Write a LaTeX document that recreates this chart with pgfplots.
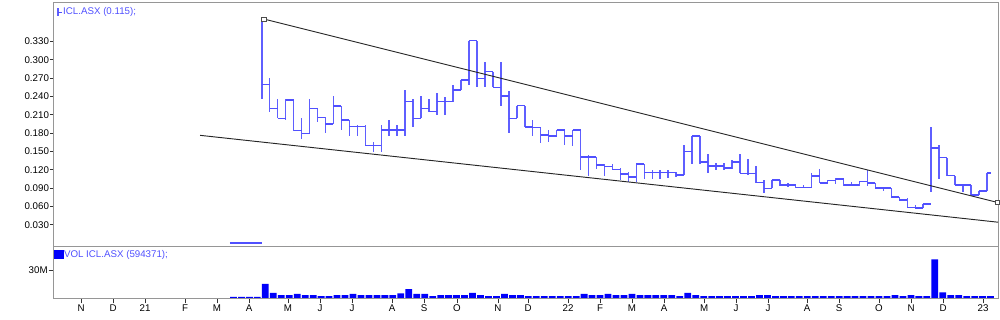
\documentclass[border=0pt]{standalone}
\usepackage{fontspec}
\setmainfont{Liberation Sans}
\usepackage{pgfplots}
\usepackage{pgfplotstable}
\pgfplotsset{compat=1.18}

\definecolor{barcol}{RGB}{80,80,255}
\definecolor{vertcol}{RGB}{95,95,255}
\definecolor{legcol}{RGB}{80,80,255}
\definecolor{framecol}{RGB}{150,150,150}
\definecolor{volcol}{RGB}{0,0,250}
\newcommand{\cf}{\fontsize{7.3}{8.5}\selectfont}

% weekly bars: open = previous close (drawn as the right tick of the previous bar)
\pgfplotstableread{
i high low close
-4 0 0 0
-3 0 0 0
-2 0 0 0
-1 0 0 0
0 0.3670 0.2351 0.2597
1 0.2695 0.2149 0.2204
2 0.2351 0.2041 0.2041
3 0.2351 0.2013 0.2340
4 0.2340 0.1838 0.1838
5 0.2041 0.1697 0.1795
6 0.2351 0.1795 0.2204
7 0.2204 0.1985 0.2057
8 0.2057 0.1795 0.1947
9 0.2405 0.1947 0.2242
10 0.2242 0.1849 0.2013
11 0.2013 0.1751 0.1903
12 0.1931 0.1751 0.1903
13 0.1931 0.1587 0.1592
14 0.1658 0.1494 0.1592
15 0.1931 0.1494 0.1849
16 0.2013 0.1751 0.1849
17 0.1931 0.1751 0.1849
18 0.2503 0.1751 0.2312
19 0.2351 0.1893 0.2041
20 0.2405 0.2041 0.2204
21 0.2351 0.2149 0.2149
22 0.2450 0.2095 0.2312
23 0.2394 0.2095 0.2312
24 0.2585 0.2312 0.2503
25 0.2667 0.2503 0.2667
26 0.3310 0.2585 0.3310
27 0.3310 0.2548 0.2695
28 0.2962 0.2548 0.2803
29 0.2803 0.2548 0.2548
30 0.2962 0.2242 0.2405
31 0.2495 0.1800 0.2041
32 0.2247 0.2041 0.2247
33 0.2247 0.1893 0.1898
34 0.2005 0.1751 0.1893
35 0.1903 0.1641 0.1767
36 0.1849 0.1658 0.1751
37 0.1849 0.1740 0.1849
38 0.1849 0.1604 0.1751
39 0.1849 0.1587 0.1849
40 0.1849 0.1195 0.1407
41 0.1440 0.1097 0.1407
42 0.1412 0.1206 0.1277
43 0.1293 0.1097 0.1249
44 0.1293 0.1195 0.1206
45 0.1223 0.1031 0.1129
46 0.1162 0.0999 0.1080
47 0.1293 0.1003 0.1293
48 0.1293 0.1048 0.1154
49 0.1195 0.1048 0.1154
50 0.1195 0.1048 0.1154
51 0.1195 0.1059 0.1154
52 0.1160 0.1085 0.1113
53 0.1596 0.1113 0.1497
54 0.1751 0.1293 0.1751
55 0.1751 0.1293 0.1326
56 0.1457 0.1141 0.1260
57 0.1304 0.1195 0.1260
58 0.1304 0.1195 0.1228
59 0.1358 0.1211 0.1326
60 0.1457 0.1141 0.1141
61 0.1370 0.1113 0.1141
62 0.1260 0.0987 0.0987
63 0.1031 0.0814 0.0895
64 0.1031 0.0895 0.1031
65 0.1031 0.0933 0.0949
66 0.0987 0.0922 0.0949
67 0.0949 0.0895 0.0905
68 0.0949 0.0895 0.0905
69 0.1151 0.0895 0.1097
70 0.1208 0.0982 0.0982
71 0.1031 0.0977 0.1023
72 0.1059 0.0966 0.1048
73 0.1059 0.0938 0.0949
74 0.1003 0.0933 0.0949
75 0.1007 0.0938 0.1003
76 0.1195 0.0933 0.0982
77 0.0982 0.0884 0.0900
78 0.0922 0.0846 0.0900
79 0.0900 0.0753 0.0753
80 0.0753 0.0704 0.0704
81 0.0732 0.0581 0.0581
82 0.0622 0.0573 0.0573
83 0.0639 0.0573 0.0639
84 0.1903 0.0827 0.1555
85 0.1604 0.1048 0.1396
86 0.1396 0.1102 0.1102
87 0.1102 0.0949 0.0949
88 0.0949 0.0827 0.0949
89 0.0949 0.0786 0.0786
90 0.0851 0.0778 0.0851
91 0.1146 0.0851 0.1146
}\ohlc

\pgfplotstableread{
i vol
-4 1.1
-3 1.1
-2 1.1
-1 1.1
0 15.0
1 5.4
2 3.2
3 3.2
4 4.3
5 3.2
6 3.2
7 2.1
8 2.1
9 3.2
10 3.2
11 4.3
12 3.2
13 3.2
14 3.2
15 3.2
16 3.2
17 5.0
18 9.6
19 4.3
20 4.3
21 2.1
22 3.2
23 3.2
24 3.2
25 3.2
26 5.4
27 3.2
28 2.1
29 2.1
30 4.3
31 3.2
32 3.2
33 2.1
34 2.1
35 2.1
36 2.1
37 2.1
38 2.1
39 2.1
40 4.3
41 3.2
42 3.2
43 4.3
44 3.2
45 3.2
46 4.3
47 3.2
48 3.2
49 3.2
50 3.2
51 3.2
52 2.1
53 5.4
54 3.2
55 2.1
56 2.1
57 2.1
58 2.1
59 2.1
60 2.1
61 2.1
62 3.2
63 3.2
64 2.1
65 2.1
66 2.1
67 2.1
68 2.1
69 2.1
70 2.1
71 2.1
72 2.1
73 2.1
74 2.1
75 2.1
76 2.1
77 2.1
78 2.1
79 3.2
80 2.1
81 3.2
82 2.1
83 2.1
84 41.4
85 6.1
86 3.2
87 3.2
88 2.1
89 2.1
90 2.1
91 2.1
}\voltab

\begin{document}
\begin{tikzpicture}
\path[use as bounding box] (0pt,0pt) rectangle (750pt,240pt);
% ---------------- price panel ----------------
\begin{axis}[
  at={(39.75pt,54.975pt)}, anchor=south west,
  scale only axis, width=708.75pt, height=183pt,
  xmin=-26.19, xmax=92.38, ymin=-0.006, ymax=0.3932,
  axis line style={draw=framecol, line width=0.75pt},
  xtick=\empty,
  ytick={0.03,0.06,0.09,0.12,0.15,0.18,0.21,0.24,0.27,0.30,0.33},
  yticklabels={0.030,0.060,0.090,0.120,0.150,0.180,0.210,0.240,0.270,0.300,0.330},
  ytick pos=left, tick align=outside, major tick length=2.25pt,
  tick style={draw=black!80, line width=0.6pt},
  yticklabel style={font=\cf, inner sep=0.6pt},
  /pgf/number format/assume math mode=true,
  legend style={at={(axis description cs:0,1)}, anchor=north west, xshift=3pt, yshift=-3pt,
    draw=none, fill=none, inner sep=0pt, font=\cf, text=legcol, nodes={inner sep=0.5pt}},
  legend cell align=left,
]
\addlegendimage{legend image code/.code={\draw[vertcol,line width=1.1pt] (0pt,-2.75pt) -- (0pt,2.75pt); \draw[barcol,line width=0.85pt] (0pt,0pt) -- (3pt,0pt);}}
\addlegendentry{ICL.ASX (0.115);}
% high-low: comb up to the high, then the part below the low is masked in white
\addplot[vertcol, ycomb, line width=1.15pt, mark=none, forget plot] table[x=i, y=high] {\ohlc};
\addplot[white, ycomb, line width=2.0pt, mark=none, forget plot] table[x=i, y=low] {\ohlc};
% close ticks, running on as the next bar's open tick
\addplot[barcol, jump mark left, line width=0.9pt, mark=none, forget plot] table[x=i, y=close] {\ohlc};
\addplot[barcol, line width=0.9pt, mark=none, forget plot] coordinates {(91,0.1146) (91.5,0.1146)};
% trend lines
\addplot[black!85, line width=0.7pt, forget plot] coordinates {(-7.74,0.1762) (92.5,0.0339)};
\addplot[black!85, line width=0.7pt, forget plot, mark=square*, mark size=1.6pt,
  mark options={solid, fill=white, draw=black!70, line width=0.5pt}] coordinates {(0.25,0.3665) (92.26,0.0666)};
\end{axis}
% ---------------- volume panel ----------------
\begin{axis}[
  at={(39.75pt,15.75pt)}, anchor=south west,
  scale only axis, width=708.75pt, height=39pt,
  xmin=-26.19, xmax=92.38, ymin=-1.07, ymax=54.64,
  axis line style={draw=framecol, line width=0.75pt},
  xtick={-22.67,-18.66,-14.64,-9.62,-5.61,-1.59,3.30,7.31,11.33,16.35,20.36,24.50,29.64,33.41,38.43,42.45,46.46,50.48,55.50,59.51,63.53,68.42,72.43,77.45,81.47,85.48,90.50},
  xticklabels={N,D,21,F,M,A,M,J,J,A,S,O,N,D,22,F,M,A,M,J,J,A,S,O,N,D,23},
  ytick={30}, yticklabels={30M},
  xtick pos=bottom, ytick pos=left, tick align=outside, major tick length=3.2pt,
  tick style={draw=black!80, line width=0.6pt},
  yticklabel style={font=\cf, inner sep=0.6pt},
  xticklabel style={font=\cf, inner sep=1.2pt},
  /pgf/number format/assume math mode=true,
  legend style={at={(axis description cs:0,1)}, anchor=north west, xshift=0.3pt, yshift=-1.6pt,
    draw=none, fill=none, inner sep=0pt, font=\cf, text=legcol, nodes={inner sep=0.5pt}},
  legend cell align=left,
]
\addlegendimage{legend image code/.code={\fill[volcol] (0pt,-2.9pt) rectangle (6.9pt,2.9pt);}}
\addlegendentry{VOL ICL.ASX (594371);}
\addplot[ybar, bar width=0.85, bar shift=0pt, fill=volcol, draw=none, forget plot]
  table[x expr=\thisrow{i}+0.45, y=vol] {\voltab};
\end{axis}
\end{tikzpicture}
\end{document}
